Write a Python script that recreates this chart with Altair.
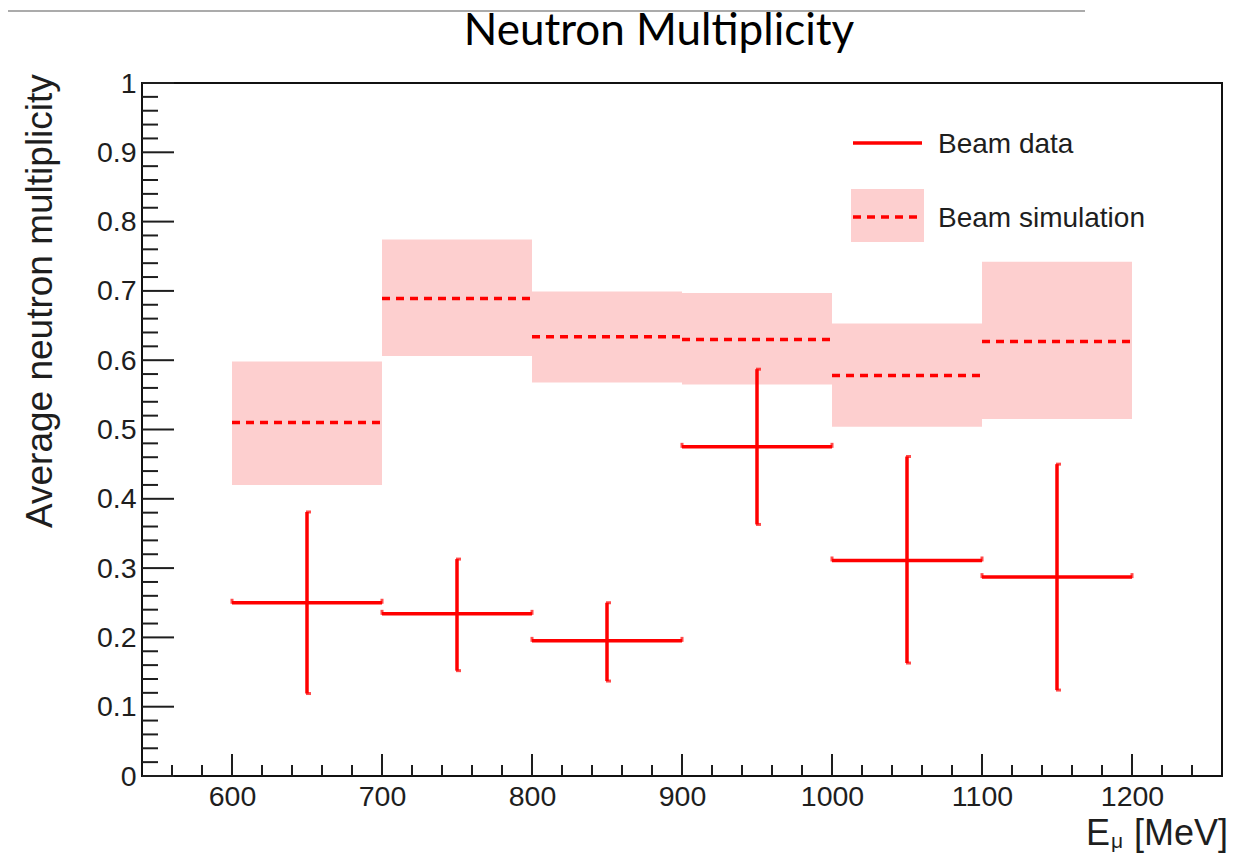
import altair as alt
import pandas as pd

# ---- data ----
bin_lo = [600, 700, 800, 900, 1000, 1100]
bin_hi = [700, 800, 900, 1000, 1100, 1200]
bin_center = [650, 750, 850, 950, 1050, 1150]

data_y = [0.250, 0.234, 0.195, 0.475, 0.311, 0.287]
data_lo = [0.119, 0.152, 0.137, 0.363, 0.163, 0.124]
data_hi = [0.381, 0.313, 0.250, 0.587, 0.461, 0.450]

sim_y = [0.510, 0.689, 0.634, 0.630, 0.578, 0.627]
sim_lo = [0.420, 0.606, 0.568, 0.565, 0.504, 0.515]
sim_hi = [0.598, 0.774, 0.699, 0.697, 0.653, 0.742]

x_labels = [600, 700, 800, 900, 1000, 1100, 1200]
x_minor = [560, 580, 620, 640, 660, 680, 720, 740, 760, 780, 820, 840, 860, 880,
           920, 940, 960, 980, 1020, 1040, 1060, 1080, 1120, 1140, 1160, 1180,
           1220, 1240]
y_labels = [0, 0.1, 0.2, 0.3, 0.4, 0.5, 0.6, 0.7, 0.8, 0.9, 1]
y_minor = [round(i * 0.02, 2) for i in range(51) if i % 5 != 0]

W, H = 1080, 693
RED = "#ff0000"
BAND = "#fdcfcf"
INK = "#1e1e1e"
FONT = "Liberation Sans"

df = pd.DataFrame(dict(lo=bin_lo, hi=bin_hi, c=bin_center,
                       dy=data_y, dlo=data_lo, dhi=data_hi,
                       sy=sim_y, slo=sim_lo, shi=sim_hi))

xscale = alt.Scale(domain=[540, 1260], nice=False, zero=False)
yscale = alt.Scale(domain=[0, 1], nice=False, zero=False)
xaxis = alt.Axis(values=x_labels, format="d", labelFontSize=28.5, labelFont=FONT,
                 labelColor=INK, ticks=False, tickSize=0, domain=False, grid=False,
                 title=None, labelPadding=6, labelFlush=False)
yaxis = alt.Axis(values=y_labels, format="~g", labelFontSize=28.5, labelFont=FONT,
                 labelColor=INK, ticks=False, tickSize=0, domain=False, grid=False,
                 title=None, labelPadding=6, labelFlush=False)


def X(f):
    return alt.X(f, type="quantitative", scale=xscale, axis=xaxis)


def Y(f):
    return alt.Y(f, type="quantitative", scale=yscale, axis=yaxis)


base = alt.Chart(df)

band = base.mark_rect(color=BAND).encode(x=X("lo"), x2="hi", y=Y("slo"), y2="shi")
sim_line = base.mark_rule(color=RED, strokeWidth=3.5, strokeDash=[8, 6]).encode(
    x=X("lo"), x2="hi", y=Y("sy"))
data_h = base.mark_rule(color=RED, strokeWidth=3.5).encode(x=X("lo"), x2="hi", y=Y("dy"))
data_v = base.mark_rule(color=RED, strokeWidth=3.5).encode(x=X("c"), y=Y("dlo"), y2="dhi")

end_lo = base.mark_tick(color=RED, orient="vertical", size=5, thickness=3, yOffset=-1.5).encode(
    x=X("lo"), y=Y("dy"))
end_hi = base.mark_tick(color=RED, orient="vertical", size=5, thickness=3, yOffset=-1.5).encode(
    x=X("hi"), y=Y("dy"))
end_top = base.mark_tick(color=RED, orient="horizontal", size=5, thickness=3, xOffset=1.5).encode(
    x=X("c"), y=Y("dhi"))
end_bot = base.mark_tick(color=RED, orient="horizontal", size=5, thickness=3, xOffset=1.5).encode(
    x=X("c"), y=Y("dlo"))

# inward axis ticks
ymaj = alt.Chart(pd.DataFrame({"v": y_labels})).mark_rule(color=INK, strokeWidth=2).encode(
    y=Y("v"), x=alt.value(0), x2=alt.value(32))
ymin = alt.Chart(pd.DataFrame({"v": y_minor})).mark_rule(color=INK, strokeWidth=2).encode(
    y=Y("v"), x=alt.value(0), x2=alt.value(16))
xmaj = alt.Chart(pd.DataFrame({"v": x_labels})).mark_rule(color=INK, strokeWidth=2).encode(
    x=X("v"), y=alt.value(H), y2=alt.value(H - 22))
xmin = alt.Chart(pd.DataFrame({"v": x_minor})).mark_rule(color=INK, strokeWidth=2).encode(
    x=X("v"), y=alt.value(H), y2=alt.value(H - 11))

one = pd.DataFrame({"k": [0]})

# legend
leg_box = alt.Chart(one).mark_rect(color=BAND).encode(
    x=alt.value(709), x2=alt.value(782), y=alt.value(106), y2=alt.value(159))
leg_data = alt.Chart(one).mark_rule(color=RED, strokeWidth=3.5).encode(
    x=alt.value(711), x2=alt.value(780), y=alt.value(60))
leg_sim = alt.Chart(one).mark_rule(color=RED, strokeWidth=3.5, strokeDash=[8, 6]).encode(
    x=alt.value(711), x2=alt.value(780), y=alt.value(134))
leg_t1 = alt.Chart(one).mark_text(font=FONT, fontSize=28, color=INK, align="left",
                                   baseline="alphabetic").encode(
    x=alt.value(796), y=alt.value(70), text=alt.value("Beam data"))
leg_t2 = alt.Chart(one).mark_text(font=FONT, fontSize=28, color=INK, align="left",
                                   baseline="alphabetic").encode(
    x=alt.value(796), y=alt.value(144), text=alt.value("Beam simulation"))

# titles
ytitle = alt.Chart(one).mark_text(font=FONT, fontSize=37, color=INK, angle=270, align="left",
                                   baseline="alphabetic").encode(
    x=alt.value(-90), y=alt.value(445), text=alt.value("Average neutron multiplicity"))
xt_e = alt.Chart(one).mark_text(font=FONT, fontSize=36, color=INK, align="left",
                                 baseline="alphabetic").encode(
    x=alt.value(944), y=alt.value(762), text=alt.value("E"))
xt_mu = alt.Chart(one).mark_text(font=FONT, fontSize=21, color=INK, align="left",
                                  baseline="alphabetic").encode(
    x=alt.value(969), y=alt.value(765), text=alt.value("μ"))
xt_unit = alt.Chart(one).mark_text(font=FONT, fontSize=36, color=INK, align="right",
                                    baseline="alphabetic").encode(
    x=alt.value(1086), y=alt.value(762), text=alt.value("[MeV]"))
main_title = alt.Chart(one).mark_text(font="Lato", fontSize=44, color="#000000", align="center",
                                       baseline="alphabetic").encode(
    x=alt.value(517), y=alt.value(-38), text=alt.value("Neutron Multiplicity"))
top_line = alt.Chart(one).mark_rule(color="#8f8f8f", strokeWidth=1.5).encode(
    x=alt.value(-142), x2=alt.value(943), y=alt.value(-72))

chart = alt.layer(
    band, sim_line, data_h, data_v, end_lo, end_hi, end_top, end_bot,
    ymaj, ymin, xmaj, xmin,
    leg_box, leg_data, leg_sim, leg_t1, leg_t2,
    ytitle, xt_e, xt_mu, xt_unit, main_title, top_line,
).properties(
    width=W, height=H,
    autosize=alt.AutoSizeParams(type="none"),
    padding={"left": 134, "top": 75, "right": 10, "bottom": 77},
    background="white",
).configure_view(stroke="#111111", strokeWidth=2)

chart.save("out.html", embed_options={"renderer": "svg", "actions": False})
